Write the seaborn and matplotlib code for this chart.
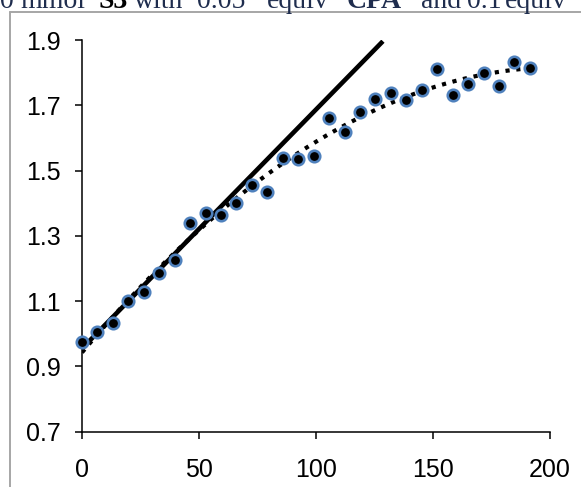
import numpy as np
import pandas as pd
import matplotlib
matplotlib.use("Agg")
import matplotlib.pyplot as plt
from matplotlib.lines import Line2D
import seaborn as sns

# Reaction time (min) and measured signal
time_min = [0, 6.6, 13.2, 19.8, 26.4, 33.0, 39.6, 46.2, 52.8, 59.4,
            66.0, 72.6, 79.2, 85.8, 92.4, 99.0, 105.6, 112.2, 118.8, 125.4,
            132.0, 138.6, 145.2, 151.8, 158.4, 165.0, 171.6, 178.2, 184.8, 191.4]
signal = [0.975, 1.006, 1.034, 1.100, 1.127, 1.186, 1.227, 1.339, 1.370, 1.365,
          1.402, 1.457, 1.433, 1.540, 1.534, 1.546, 1.662, 1.619, 1.679, 1.718,
          1.738, 1.715, 1.748, 1.810, 1.731, 1.766, 1.799, 1.758, 1.832, 1.815]

# Initial-rate straight line
rate_intercept = 0.955
rate_slope = 0.00732
rate_x_end = 128.6

x_ticks = [0, 50, 100, 150, 200]
y_ticks = [0.7, 0.9, 1.1, 1.3, 1.5, 1.7, 1.9]

df = pd.DataFrame({"t": time_min, "v": signal})

sns.set_theme(style="white")
plt.rcParams["font.family"] = ["Liberation Sans", "DejaVu Sans"]

W, H = 581, 487
fig = plt.figure(figsize=(W / 100, H / 100), dpi=100)
fig.patch.set_facecolor("white")

def px(x, y):
    return x / W, 1 - y / H

l, b = px(82, 431.7)
r, t = px(550, 40)
ax = fig.add_axes([l, b, r - l, t - b])
ax.set_facecolor("white")

# Quadratic trend through all points (dotted)
sns.regplot(data=df, x="t", y="v", order=2, ci=None, scatter=False, ax=ax,
            truncate=True,
            line_kws=dict(color="black", lw=3.0, linestyle=(0, (1.0, 1.6)),
                          dash_capstyle="butt", zorder=2))

# Initial-rate line (solid)
line_x = np.array([0, rate_x_end])
sns.lineplot(x=line_x, y=rate_intercept + rate_slope * line_x, ax=ax,
             color="black", lw=3.3, zorder=3, solid_capstyle="butt")

sns.scatterplot(data=df, x="t", y="v", ax=ax, s=68, color="black",
                edgecolor="#4f81bd", linewidth=1.9, zorder=4, clip_on=False)

ax.set_xlim(0, 200)
ax.set_ylim(0.7, 1.9)
ax.set_xticks(x_ticks)
ax.set_yticks(y_ticks)
ax.set_xticklabels([str(v) for v in x_ticks])
ax.set_yticklabels([f"{v:.1f}" for v in y_ticks])
ax.set_xlabel("")
ax.set_ylabel("")
for side in ("top", "right"):
    ax.spines[side].set_visible(False)
for side in ("left", "bottom"):
    ax.spines[side].set_color("black")
    ax.spines[side].set_linewidth(1.1)
ax.tick_params(axis="both", which="major", direction="out", length=5, width=1.1,
               color="black", labelsize=18, labelcolor="black",
               bottom=True, left=True)
ax.tick_params(axis="y", pad=10)
ax.tick_params(axis="x", pad=14)
ax.grid(False)

# Outer chart frame (gray), running off the right and bottom edges
frame_kw = dict(color="#a6a6a6", lw=1.4, transform=fig.transFigure)
fig.add_artist(Line2D([9.5 / W, 9.5 / W], [1 - 12 / H, 0], **frame_kw))
fig.add_artist(Line2D([9.5 / W, 1.0], [1 - 12 / H, 1 - 12 / H], **frame_kw))

# Caption line above the chart (runs off the top edge of the figure)
navy = "#1f2d4e"
base_y = 1 - 8 / H
pieces = [
    (14, "0", "normal", navy, "right"),
    (20, "mmol", "normal", navy, "left"),
    (99, "S3", "bold", "black", "left"),
    (134, "with", "normal", navy, "left"),
    (197, "0.05", "normal", navy, "left"),
    (267, "equiv", "normal", navy, "left"),
    (347, "CPA", "bold", navy, "left"),
    (421, "and", "normal", navy, "left"),
    (467, "0.1", "normal", navy, "left"),
    (505, "equiv", "normal", navy, "left"),
]
for xp, s, wt, col, ha in pieces:
    fig.text(xp / W, base_y, s, fontsize=20, fontweight=wt, color=col,
             family=["Liberation Serif", "DejaVu Serif"], ha=ha, va="baseline")

fig.savefig("out.png", dpi=100, facecolor="white")
